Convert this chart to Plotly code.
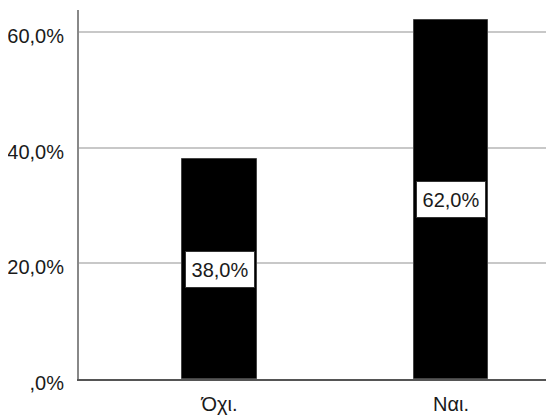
import plotly.graph_objects as go

categories = ["Όχι.", "Ναι."]
values = [38.0, 62.0]
label_texts = ["38,0%", "62,0%"]
y_tickvals = [0, 20, 40, 60]
y_ticktext = [",0%", "20,0%", "40,0%", "60,0%"]

FONT = "Liberation Sans, Arial, sans-serif"

fig = go.Figure()
fig.add_trace(go.Bar(
    x=list(range(len(categories))), y=values,
    marker=dict(color="black", line=dict(color="#444444", width=1)),
    width=0.32, hoverinfo="skip",
))

for i, (v, t) in enumerate(zip(values, label_texts)):
    fig.add_annotation(
        x=i, y=v / 2, text=t, showarrow=False,
        font=dict(family=FONT, size=20, color="#1a1a1a"),
        bgcolor="white", bordercolor="#333333", borderwidth=1, borderpad=2,
        width=64, height=31,
    )

fig.update_layout(
    width=546, height=410,
    margin=dict(l=71, r=0, t=2, b=39),
    paper_bgcolor="white", plot_bgcolor="white",
    showlegend=False,
    font=dict(family=FONT, size=20, color="#1a1a1a"),
    bargap=0,
)
fig.update_xaxes(
    range=[-0.607, 1.445],
    tickvals=list(range(len(categories))), ticktext=categories,
    showgrid=False, zeroline=False,
    showline=True, linecolor="#555555", linewidth=2,
    ticks="", ticklabelstandoff=6,
    tickfont=dict(size=20, family=FONT, color="#1a1a1a"),
)
fig.update_yaxes(
    range=[0, 63.8],
    tickvals=y_tickvals, ticktext=y_ticktext,
    showgrid=True, gridcolor="#c8c8c8", gridwidth=1.5,
    zeroline=False,
    showline=True, linecolor="#888888", linewidth=2,
    ticks="", ticklen=0, ticklabelstandoff=9, ticklabelshift=4,
    tickfont=dict(size=20, family=FONT, color="#1a1a1a"),
)

fig.write_html("out.html")
